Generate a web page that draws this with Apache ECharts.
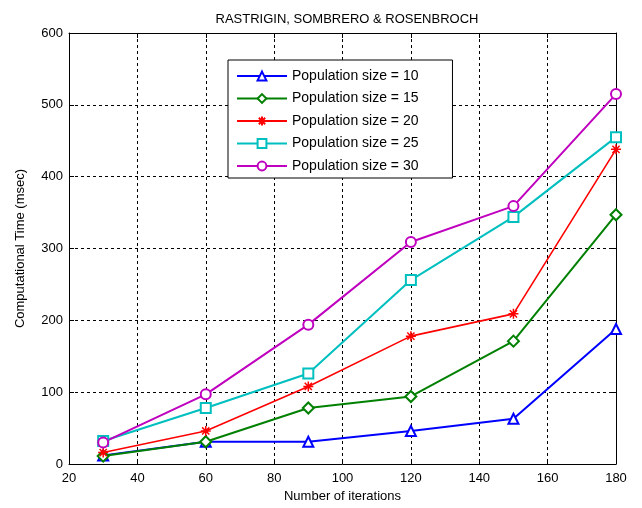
<!DOCTYPE html>
<html>
<head>
<meta charset="utf-8">
<script src="https://cdn.jsdelivr.net/npm/echarts@6/dist/echarts.min.js"></script>
<style>
  html, body { margin: 0; padding: 0; background: #fff; }
  #main { width: 642px; height: 508px; }
</style>
</head>
<body>
<div id="main"></div>
<script>
  // number of iterations
  const iterations = [30, 60, 90, 120, 150, 180]
  // computational time (msec) per population size
  const pop10 = [12, 31, 31, 46, 63, 188]
  const pop15 = [11, 31, 78, 94, 171, 347]
  const pop20 = [16, 46, 108, 178, 209, 438]
  const pop25 = [32, 78, 126, 256, 344, 455]
  const pop30 = [30, 97, 194, 309, 359, 515]
  const seriesNames = ['Population size = 10', 'Population size = 15', 'Population size = 20', 'Population size = 25', 'Population size = 30']

  const font = 'Liberation Sans, Arial, sans-serif'
  const asterisk = 'path://M0,-5L0,5M-5,0L5,0M-3.6,-3.6L3.6,3.6M-3.6,3.6L3.6,-3.6'

  const styles = [
    { data: pop10, color: '#0000ff', symbol: 'emptyTriangle', size: 10, width: 2 },
    { data: pop15, color: '#008000', symbol: 'emptyDiamond', size: 11, width: 2 },
    { data: pop20, color: '#ff0000', symbol: asterisk, size: 10, width: 1.6 },
    { data: pop25, color: '#00bfbf', symbol: 'emptyRect', size: 10, width: 2 },
    { data: pop30, color: '#bf00bf', symbol: 'emptyCircle', size: 10, width: 2 }
  ]

  const seriesData = styles.map((s, i) => {
    return {
      name: seriesNames[i],
      type: 'line',
      data: iterations.map((x, j) => [x, s.data[j]]),
      symbol: s.symbol,
      symbolSize: s.size,
      showAllSymbol: true,
      lineStyle: { color: s.color, width: s.width },
      itemStyle: { color: s.color, borderColor: s.color, borderWidth: 1.5 },
      emphasis: { disabled: true },
      animation: false
    }
  })

  const myChart = echarts.init(document.getElementById('main'))
  const option = {
    backgroundColor: '#fff',
    title: {
      text: 'RASTRIGIN, SOMBRERO & ROSENBROCH',
      left: 342,
      textAlign: 'center',
      top: 8,
      textStyle: { fontFamily: font, fontSize: 13, fontWeight: 'normal', color: '#000' }
    },
    legend: {
      orient: 'vertical',
      left: 228,
      top: 60,
      width: 224,
      padding: [9, 34, 5, 8],
      itemGap: 8.5,
      itemWidth: 50,
      itemHeight: 11,
      backgroundColor: '#fff',
      borderColor: '#000',
      borderWidth: 1,
      textStyle: { fontFamily: font, fontSize: 14, color: '#000' },
      data: seriesNames
    },
    grid: { left: 69, right: 26, top: 33, bottom: 44 },
    xAxis: [
      {
        type: 'value',
        min: 20,
        max: 180,
        interval: 20,
        name: 'Number of iterations',
        nameLocation: 'middle',
        nameGap: 26,
        nameTextStyle: { fontFamily: font, fontSize: 13, color: '#000' },
        axisLine: { show: true, lineStyle: { color: '#000', width: 1 } },
        axisTick: { inside: true, length: 5, lineStyle: { color: '#000' } },
        axisLabel: { fontFamily: font, fontSize: 13, color: '#000', margin: 8 },
        splitLine: { show: true, lineStyle: { color: '#000', type: [3, 3], width: 1 } }
      },
      {
        type: 'value',
        position: 'top',
        min: 20,
        max: 180,
        interval: 20,
        axisLine: { show: true, onZero: false, lineStyle: { color: '#000', width: 1 } },
        axisTick: { inside: true, length: 5, lineStyle: { color: '#000' } },
        axisLabel: { show: false },
        splitLine: { show: false }
      }
    ],
    yAxis: [
      {
        type: 'value',
        min: 0,
        max: 600,
        interval: 100,
        name: 'Computational Time (msec)',
        nameLocation: 'middle',
        nameGap: 42,
        nameTextStyle: { fontFamily: font, fontSize: 13, color: '#000' },
        axisLine: { show: true, lineStyle: { color: '#000', width: 1 } },
        axisTick: { show: true, inside: true, length: 5, lineStyle: { color: '#000' } },
        axisLabel: { fontFamily: font, fontSize: 13, color: '#000', margin: 6 },
        splitLine: { show: true, lineStyle: { color: '#000', type: [3, 3], width: 1 } }
      },
      {
        type: 'value',
        position: 'right',
        min: 0,
        max: 600,
        interval: 100,
        axisLine: { show: true, onZero: false, lineStyle: { color: '#000', width: 1 } },
        axisTick: { show: true, inside: true, length: 5, lineStyle: { color: '#000' } },
        axisLabel: { show: false },
        splitLine: { show: false }
      }
    ],
    series: seriesData
  }
  myChart.setOption(option)
</script>
</body>
</html>
